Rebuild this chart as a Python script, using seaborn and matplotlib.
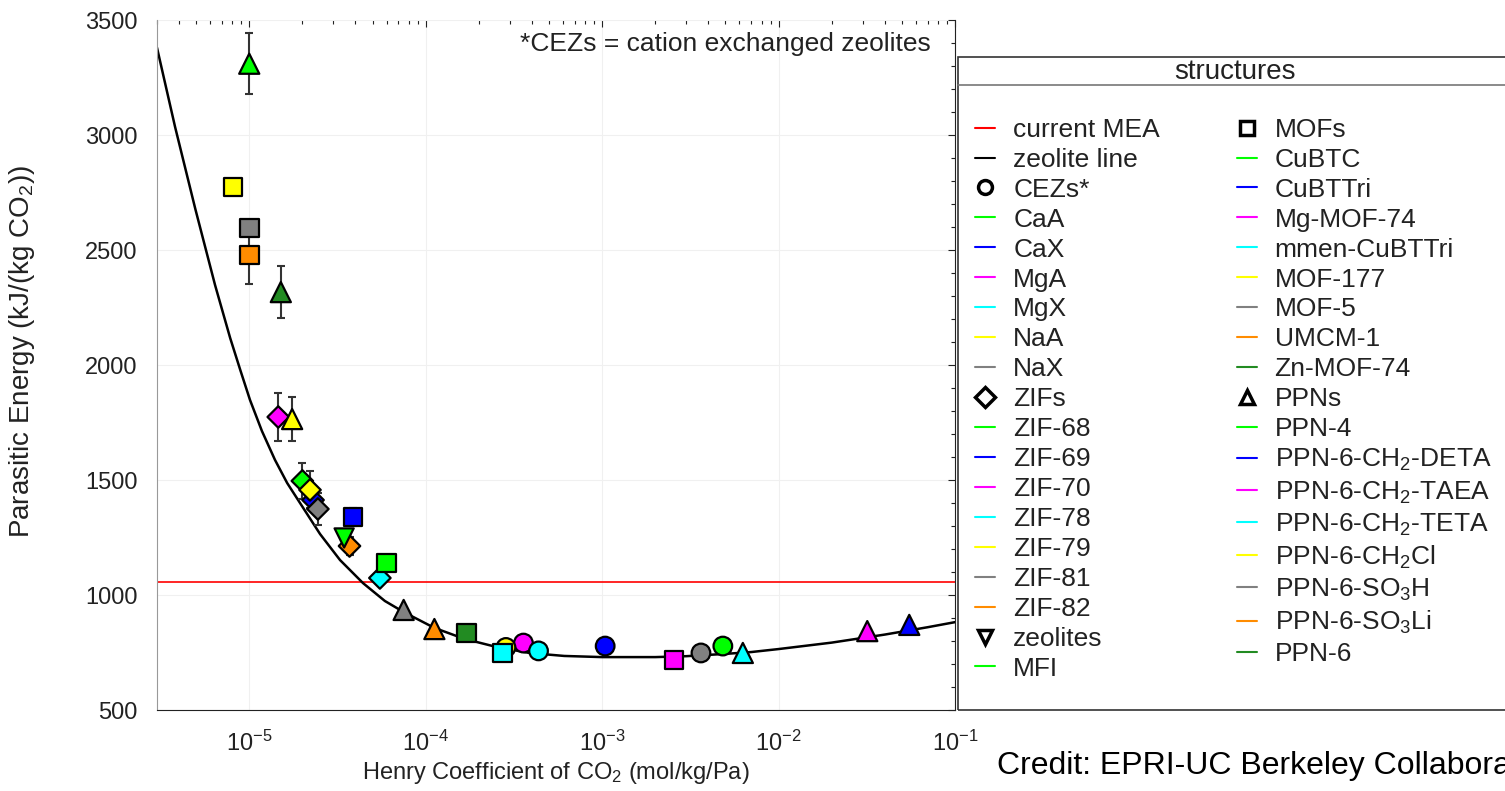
import matplotlib
matplotlib.use("Agg")
import matplotlib.pyplot as plt
from matplotlib.lines import Line2D
from matplotlib.patches import Rectangle
from matplotlib.ticker import MultipleLocator
import seaborn as sns
import pandas as pd

# values: Henry coefficient (mol/kg/Pa), parasitic energy (kJ/kg CO2)
cez_names = ["CaA", "CaX", "MgA", "MgX", "NaA", "NaX"]
cez_henry = [4.83e-3, 1.04e-3, 3.58e-4, 4.36e-4, 2.85e-4, 3.63e-3]
cez_energy = [778, 778, 791, 757, 772, 748]
cez_err = [0, 0, 0, 0, 0, 0]

zif_names = ["ZIF-68", "ZIF-69", "ZIF-70", "ZIF-78", "ZIF-79", "ZIF-81", "ZIF-82"]
zif_henry = [2.0e-5, 2.3e-5, 1.46e-5, 5.5e-5, 2.21e-5, 2.45e-5, 3.7e-5]
zif_energy = [1496, 1413, 1774, 1074, 1457, 1374, 1213]
zif_err = [80, 0, 105, 0, 80, 70, 40]

zeo_names = ["MFI"]
zeo_henry = [3.45e-5]
zeo_energy = [1248]
zeo_err = [0]

mof_names = ["CuBTC", "CuBTTri", "Mg-MOF-74", "mmen-CuBTTri", "MOF-177", "MOF-5", "UMCM-1", "Zn-MOF-74"]
mof_henry = [6.0e-5, 3.87e-5, 2.55e-3, 2.72e-4, 8.1e-6, 1.0e-5, 1.0e-5, 1.71e-4]
mof_energy = [1139, 1339, 717, 748, 2774, 2596, 2478, 835]
mof_err = [0, 40, 0, 0, 0, 0, 125, 0]

ppn_names = ["PPN-4", "PPN-6-CH$_2$-DETA", "PPN-6-CH$_2$-TAEA", "PPN-6-CH$_2$-TETA",
             "PPN-6-CH$_2$Cl", "PPN-6-SO$_3$H", "PPN-6-SO$_3$Li", "PPN-6"]
ppn_henry = [1.0e-5, 5.5e-2, 3.18e-2, 6.27e-3, 1.75e-5, 7.5e-5, 1.12e-4, 1.51e-5]
ppn_energy = [3310, 870, 843, 748, 1765, 935, 852, 2317]
ppn_err = [133, 0, 0, 0, 95, 0, 0, 113]

# zeolite trend line
line_henry = [3.0e-6, 3.8e-6, 4.95e-6, 6.4e-6, 7.8e-6, 8.9e-6, 1.01e-5, 1.18e-5, 1.4e-5,
              1.64e-5, 1.94e-5, 2.52e-5, 3.27e-5, 4.41e-5, 5.87e-5, 7.5e-5, 1.12e-4,
              1.66e-4, 2.52e-4, 3.87e-4, 6.1e-4, 1e-3, 2e-3, 3e-3, 5e-3, 7e-3, 1e-2,
              2e-2, 4e-2, 7e-2, 1e-1]
line_energy = [3380, 3035, 2678, 2348, 2117, 1978, 1848, 1713, 1587,
               1487, 1400, 1265, 1152, 1052, 974, 926, 857,
               809, 774, 748, 735, 730, 730, 734, 744, 752, 765,
               793, 828, 860, 882]

mea_energy = 1055

base_colors = ["#00ff00", "#0000ff", "#ff00ff", "#00ffff", "#ffff00", "#808080", "#ff8c00", "#228b22"]

groups = [
    ("CEZs*", "CEZs", "o", cez_names, cez_henry, cez_energy, cez_err),
    ("ZIFs", "ZIFs", "D", zif_names, zif_henry, zif_energy, zif_err),
    ("zeolites", "zeolites", "v", zeo_names, zeo_henry, zeo_energy, zeo_err),
    ("MOFs", "MOFs", "s", mof_names, mof_henry, mof_energy, mof_err),
    ("PPNs", "PPNs", "^", ppn_names, ppn_henry, ppn_energy, ppn_err),
]

rows = []
for label, g, m, names, hs, es, errs in groups:
    for i, n in enumerate(names):
        rows.append(dict(name=n, group=g, henry=hs[i], energy=es[i], err=errs[i],
                         color=base_colors[i]))
df = pd.DataFrame(rows)

sns.set_style("white")
plt.rcParams["font.family"] = ["Liberation Sans", "DejaVu Sans"]
plt.rcParams["mathtext.fontset"] = "custom"
plt.rcParams["mathtext.rm"] = "Liberation Sans"
plt.rcParams["mathtext.it"] = "Liberation Sans:italic"
plt.rcParams["mathtext.bf"] = "Liberation Sans:bold"
plt.rcParams["mathtext.default"] = "regular"

fig = plt.figure(figsize=(15.05, 7.91), dpi=100)
ax = fig.add_axes([0.1043, 0.1024, 0.5303, 0.8723])
ax.set_xscale("log")

ax.axhline(mea_energy, color="red", lw=1.2, zorder=1)
sns.lineplot(x=line_henry, y=line_energy, color="black", lw=1.8, sort=False, ax=ax, zorder=2)

eb = df[df["err"] > 0]
ax.errorbar(eb["henry"], eb["energy"], yerr=eb["err"], fmt="none", ecolor="#333333",
            elinewidth=1.5, capsize=3, capthick=1.5, zorder=3)

sns.scatterplot(data=df, x="henry", y="energy", hue="name",
                palette=dict(zip(df["name"], df["color"])),
                style="group", markers={"CEZs": "o", "ZIFs": "D", "zeolites": "v", "MOFs": "s", "PPNs": "^"},
                size="group", sizes={"CEZs": 180, "ZIFs": 120, "zeolites": 190, "MOFs": 180, "PPNs": 210},
                edgecolor="black", linewidth=1.6, legend=False, ax=ax, zorder=4)

ax.set_xlim(3e-6, 1e-1)
ax.set_ylim(500, 3500)
ax.yaxis.set_major_locator(MultipleLocator(500))
ax.yaxis.set_minor_locator(MultipleLocator(100))
ax.grid(True, which="major", color="#f0f0f0", lw=0.8)
ax.set_axisbelow(True)

ax.tick_params(which="both", direction="in", top=True, right=True, labelsize=17,
               labelcolor="#222222", color="#222222")
ax.tick_params(which="major", length=5, width=0.8)
ax.tick_params(which="minor", length=3, width=0.8)
ax.tick_params(axis="y", pad=14)
ax.tick_params(axis="x", pad=15)
ax.spines["top"].set_visible(False)
ax.spines["left"].set_color("#999999")
ax.spines["bottom"].set_color("#222222")
ax.spines["right"].set_color("#222222")

ax.set_xlabel("Henry Coefficient of CO$_2$ (mol/kg/Pa)", fontsize=17, color="#222222", va="top")
ax.xaxis.set_label_coords(0.5, -0.072)
ax.set_ylabel("Parasitic Energy (kJ/(kg CO$_2$))", fontsize=20, color="#222222")
ax.yaxis.set_label_coords(-0.150, 0.52)

ax.text(0.969, 0.965, "*CEZs = cation exchanged zeolites", transform=ax.transAxes,
        ha="right", va="center", fontsize=19, color="#222222")

# legend panel
handles = [Line2D([], [], color="red", lw=1.5), Line2D([], [], color="black", lw=1.5)]
labels = ["current MEA", "zeolite line"]
for label, g, m, names, hs, es, errs in groups:
    handles.append(Line2D([], [], marker=m, ls="", mfc="white", mec="black", mew=2.5, ms=10))
    labels.append(label)
    for i, n in enumerate(names):
        handles.append(Line2D([], [], color=base_colors[i], lw=1.5))
        labels.append(n)

fig.add_artist(Rectangle((958 / 1505, 0.1024), 0.37, 0.8255, transform=fig.transFigure,
                         fill=False, ec="#333333", lw=1.2))
fig.add_artist(Line2D([958 / 1505, 1.0], [0.8925, 0.8925], transform=fig.transFigure,
                      color="#777777", lw=1.2))
fig.text(1235 / 1505, 1 - 72 / 791, "structures", ha="center", va="center", fontsize=20, color="#222222")

fig.legend(handles, labels, ncol=2, loc="upper left", bbox_to_anchor=(0.648, 0.851),
           frameon=False, fontsize=19, handlelength=0.76, handletextpad=0.68,
           columnspacing=2.9, labelspacing=0.225, borderpad=0, borderaxespad=0,
           labelcolor="#222222")

fig.text(997 / 1505, 1 - 766 / 791, "Credit: EPRI-UC Berkeley Collaboration",
         ha="left", va="center", fontsize=23, color="black")

fig.savefig("out.png", dpi=100)
